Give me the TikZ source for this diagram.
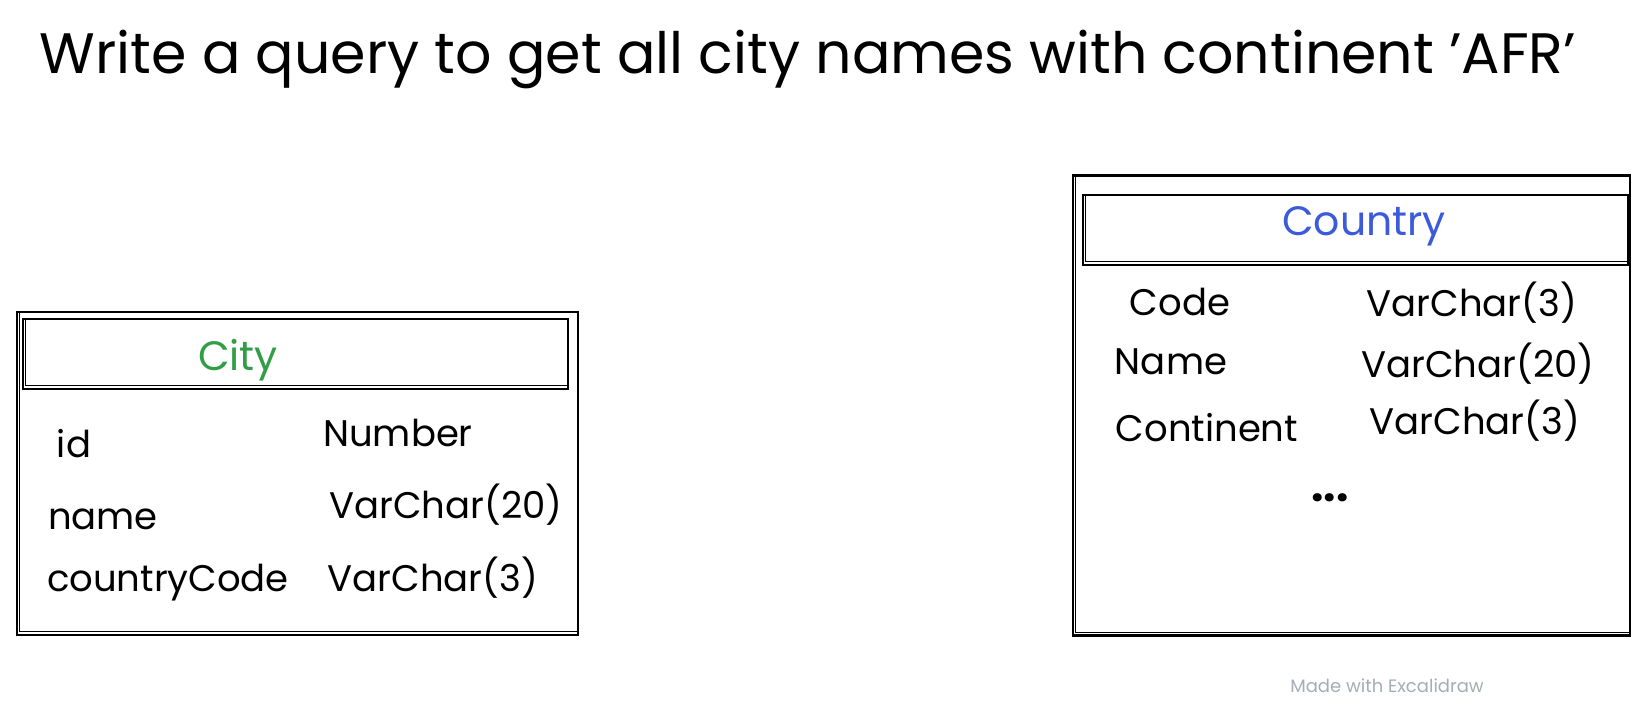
\documentclass[tikz,border=0pt]{standalone}
\usepackage{fontspec}
\setmainfont{Poppins}
\definecolor{cityGreen}{HTML}{2F9E44}
\definecolor{countryBlue}{HTML}{3B5BDB}
\definecolor{markGray}{HTML}{A5ADB8}
\begin{document}
\begin{tikzpicture}[x=1pt,y=-1pt,
  box/.style={draw=black, line width=2.2pt, rectangle, inner sep=0pt},
  ghost/.style={draw=black, line width=0.9pt, rectangle, inner sep=0pt},
  field/.style={font=\fontsize{37}{37}\selectfont, inner sep=0pt, text=black},
  head/.style={font=\fontsize{41}{41}\selectfont, inner sep=0pt}]
\useasboundingbox (0,0) rectangle (1649,708);
\fill[white] (0,0) rectangle (1649,708);

% title
\node[font=\fontsize{57}{57}\selectfont, inner sep=0pt] (title) at (808,60) {Write a query to get all city names with continent 'AFR'};

% City table
\node[box, minimum width=561pt, minimum height=323pt] (cityOuter) at (297.5,473.5) {};
\node[ghost, minimum width=558pt, minimum height=319pt] (cityOuterB) at (298,472) {};
\node[box, minimum width=545pt, minimum height=70pt] (cityHead) at (295.5,354) {};
\node[ghost, minimum width=542pt, minimum height=67pt] (cityHeadB) at (296,352) {};
\node[head, text=cityGreen] (cityName) at (238,360) {City};
\node[field] (c1a) at (74,444) {id};
\node[field] (c1b) at (398,433) {Number};
\node[field] (c2a) at (103,519) {name};
\node[field] (c2b) at (446,505) {VarChar(20)};
\node[field] (c3a) at (168,583) {countryCode};
\node[field] (c3b) at (433,578) {VarChar(3)};

% Country table
\node[box, minimum width=557pt, minimum height=460pt] (ctyOuter) at (1351.5,405.5) {};
\node[ghost, minimum width=554pt, minimum height=457pt] (ctyOuterB) at (1352,404) {};
\node[box, minimum width=545pt, minimum height=70pt] (ctyHead) at (1355.5,230) {};
\node[ghost, minimum width=542pt, minimum height=67pt] (ctyHeadB) at (1356,228) {};
\node[head, text=countryBlue] (ctyName) at (1364,226) {Country};
\node[field] (k1a) at (1180,302) {Code};
\node[field] (k1b) at (1472,303) {VarChar(3)};
\node[field] (k2a) at (1171,362) {Name};
\node[field] (k2b) at (1478,364) {VarChar(20)};
\node[field] (k3a) at (1207,428) {Continent};
\node[field] (k3b) at (1475,421) {VarChar(3)};
\node[field, font=\fontsize{44}{44}\selectfont\bfseries] (kdots) at (1330,498) {...};

% watermark
\node[font=\fontsize{18}{18}\selectfont, text=markGray, inner sep=0pt] (mark) at (1387,686) {Made with Excalidraw};
\end{tikzpicture}
\end{document}
